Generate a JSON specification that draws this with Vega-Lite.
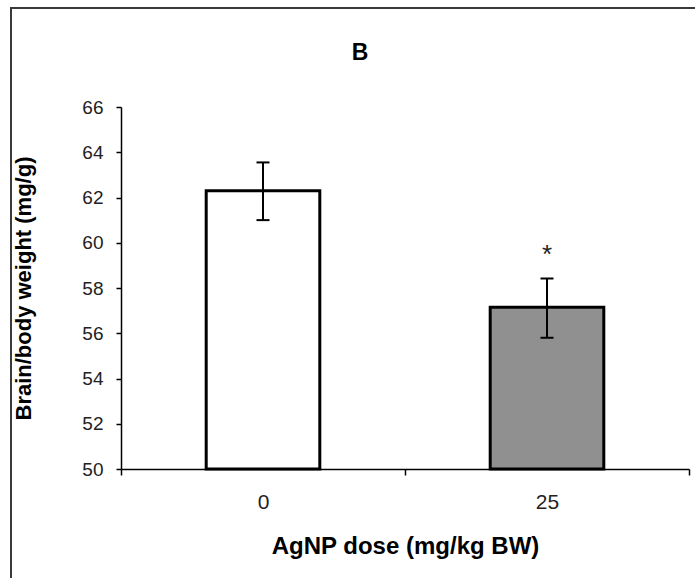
{
  "$schema": "https://vega.github.io/schema/vega-lite/v6.json",
  "width": 684,
  "height": 570,
  "autosize": {"type": "none"},
  "padding": {"left": 11, "top": 8, "right": 0, "bottom": 0},
  "background": "white",
  "config": {
    "view": {"stroke": "#3a3a3a", "strokeWidth": 2, "strokeDash": [684, 1254, 572, 2]},
    "font": "Liberation Sans",
    "axis": {"domainColor": "black", "tickColor": "black", "labelColor": "#222222", "titleColor": "black", "grid": false, "domainWidth": 1.5, "tickWidth": 1.5, "labelFont": "Liberation Sans", "titleFont": "Liberation Sans"}
  },
  "title": {"text": "B", "fontSize": 23, "fontWeight": "bold", "font": "Liberation Sans", "offset": -75, "baseline": "alphabetic", "dx": 7, "anchor": "middle", "frame": "group", "color": "black"},
  "data": {
    "values": [
      {"dose": "0", "mean": 62.3, "lo": 61.0, "hi": 63.55, "sig": ""},
      {"dose": "25", "mean": 57.15, "lo": 55.8, "hi": 58.42, "sig": "*"}
    ]
  },
  "encoding": {
    "x": {
      "field": "dose",
      "type": "nominal",
      "sort": ["0", "25"],
      "scale": {"range": [110, 678], "paddingInner": 0, "paddingOuter": 0},
      "axis": {"title": "AgNP dose (mg/kg BW)", "labelAngle": 0, "tickBand": "extent", "offset": -109, "tickSize": 6, "labelPadding": 16, "labelFontSize": 21, "titleFontSize": 24, "titleFontWeight": "bold", "titlePadding": 22}
    }
  },
  "layer": [
    {
      "mark": {"type": "bar", "width": {"band": 0.4}, "stroke": "black", "strokeWidth": 3},
      "encoding": {
        "y": {
          "field": "mean",
          "type": "quantitative",
          "scale": {"domain": [50, 66], "range": [461, 99], "zero": false, "nice": false},
          "axis": {"title": "Brain/body weight (mg/g)", "values": [50, 52, 54, 56, 58, 60, 62, 64, 66], "offset": -110, "tickSize": 5, "labelPadding": 13, "labelFontSize": 19, "titleFontSize": 22, "titleFontWeight": "bold", "titlePadding": 46}
        },
        "y2": {"datum": 50},
        "fill": {"field": "dose", "type": "nominal", "scale": {"domain": ["0", "25"], "range": ["white", "#909090"]}, "legend": null}
      }
    },
    {
      "mark": {"type": "rule", "strokeWidth": 2, "color": "black"},
      "encoding": {"y": {"field": "lo", "type": "quantitative"}, "y2": {"field": "hi"}}
    },
    {
      "mark": {"type": "tick", "thickness": 2, "size": 13, "color": "black", "opacity": 1},
      "encoding": {"y": {"field": "hi", "type": "quantitative"}}
    },
    {
      "mark": {"type": "tick", "thickness": 2, "size": 13, "color": "black", "opacity": 1},
      "encoding": {"y": {"field": "lo", "type": "quantitative"}}
    },
    {
      "mark": {"type": "text", "fontSize": 26, "dy": -15, "baseline": "alphabetic", "color": "#222222"},
      "encoding": {"y": {"field": "hi", "type": "quantitative"}, "text": {"field": "sig"}}
    }
  ]
}
